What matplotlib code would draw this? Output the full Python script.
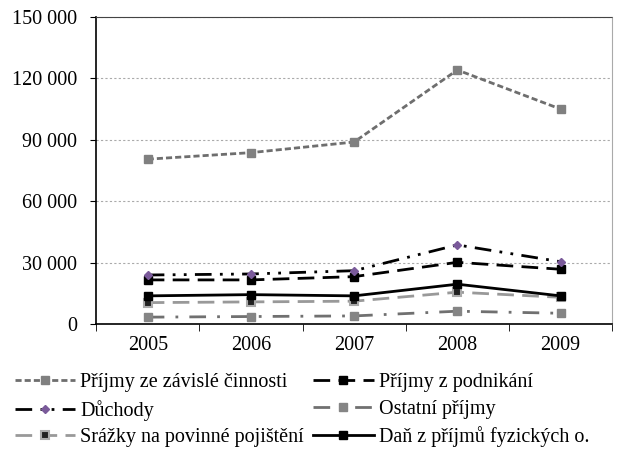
import matplotlib.pyplot as plt
from matplotlib.ticker import FuncFormatter

plt.rcParams['font.family'] = ['Liberation Serif', 'DejaVu Serif']

years = ["2005", "2006", "2007", "2008", "2009"]
zavisla = [80500, 83700, 88900, 124100, 105000]
podnikani = [21500, 21500, 23100, 30100, 26700]
duchody = [23900, 24400, 26000, 38600, 30400]
ostatni = [3300, 3600, 3900, 6200, 5200]
srazky = [10400, 10750, 11100, 15500, 13000]
dan = [13700, 14300, 13700, 19400, 13700]

x = range(len(years))

fig = plt.figure(figsize=(6.24, 4.53), dpi=100)
ax = fig.add_axes([0.154, 0.285, 0.827, 0.6775])

ax.plot(x, zavisla, color="#6e6e6e", lw=2, dashes=(2.2, 1.1), marker="s", ms=6,
        mfc="#808080", mec="#808080", label="Příjmy ze závislé činnosti")
ax.plot(x, podnikani, color="black", lw=2, dashes=(6, 3), marker="s", ms=6,
        mfc="black", mec="black", label="Příjmy z podnikání")
ax.plot(x, duchody, color="black", lw=2, dashes=(6, 3, 1, 3, 1, 3), marker="D", ms=4,
        mfc="#7a5a9a", mec="#7a5a9a", label="Důchody")
ax.plot(x, ostatni, color="#707070", lw=2, dashes=(6, 4, 1, 4), marker="s", ms=6,
        mfc="#858585", mec="#858585", label="Ostatní příjmy")
ax.plot(x, srazky, color="#999999", lw=2, dashes=(6, 3), marker="s", ms=6,
        mfc="#222222", mec="#aaaaaa", mew=1.5, label="Srážky na povinné pojištění")
ax.plot(x, dan, color="black", lw=2, marker="s", ms=6,
        mfc="black", mec="black", label="Daň z příjmů fyzických o.")

ax.set_xlim(-0.5, 4.5)
ax.set_ylim(0, 150000)
ax.set_yticks(range(0, 150001, 30000))
ax.yaxis.set_major_formatter(FuncFormatter(lambda v, p: f"{int(v):,}".replace(",", " ")))
ax.set_xticks(x)
ax.set_xticklabels(years)
ax.set_xticks([i - 0.5 for i in range(6)], minor=True)
ax.tick_params(axis="x", which="major", length=0, pad=9, labelsize=14.5)
ax.tick_params(axis="x", which="minor", length=5, direction="out", color="black")
ax.tick_params(axis="y", length=4.5, direction="out", labelsize=14.5, pad=9)

ax.yaxis.grid(True, color="#aaaaaa", ls=(0, (2, 2)), lw=0.8)
ax.spines["top"].set_color("#444444")
ax.spines["top"].set_linestyle((0, (2, 1)))
ax.spines["top"].set_linewidth(0.8)
ax.spines["right"].set_color("#aaaaaa")
ax.spines["left"].set_linewidth(1.2)
ax.spines["bottom"].set_linewidth(1.2)

handles, labels = ax.get_legend_handles_labels()
order = [0, 2, 4, 1, 3, 5]
fig.legend([handles[i] for i in order], [labels[i] for i in order],
           loc="upper left", bbox_to_anchor=(15 / 624, 1 - 373 / 453), ncol=2,
           frameon=False, fontsize=14.5, handlelength=3, columnspacing=0.45,
           handletextpad=0.25, labelspacing=0.38, borderpad=0, borderaxespad=0)

fig.savefig("out.png")
